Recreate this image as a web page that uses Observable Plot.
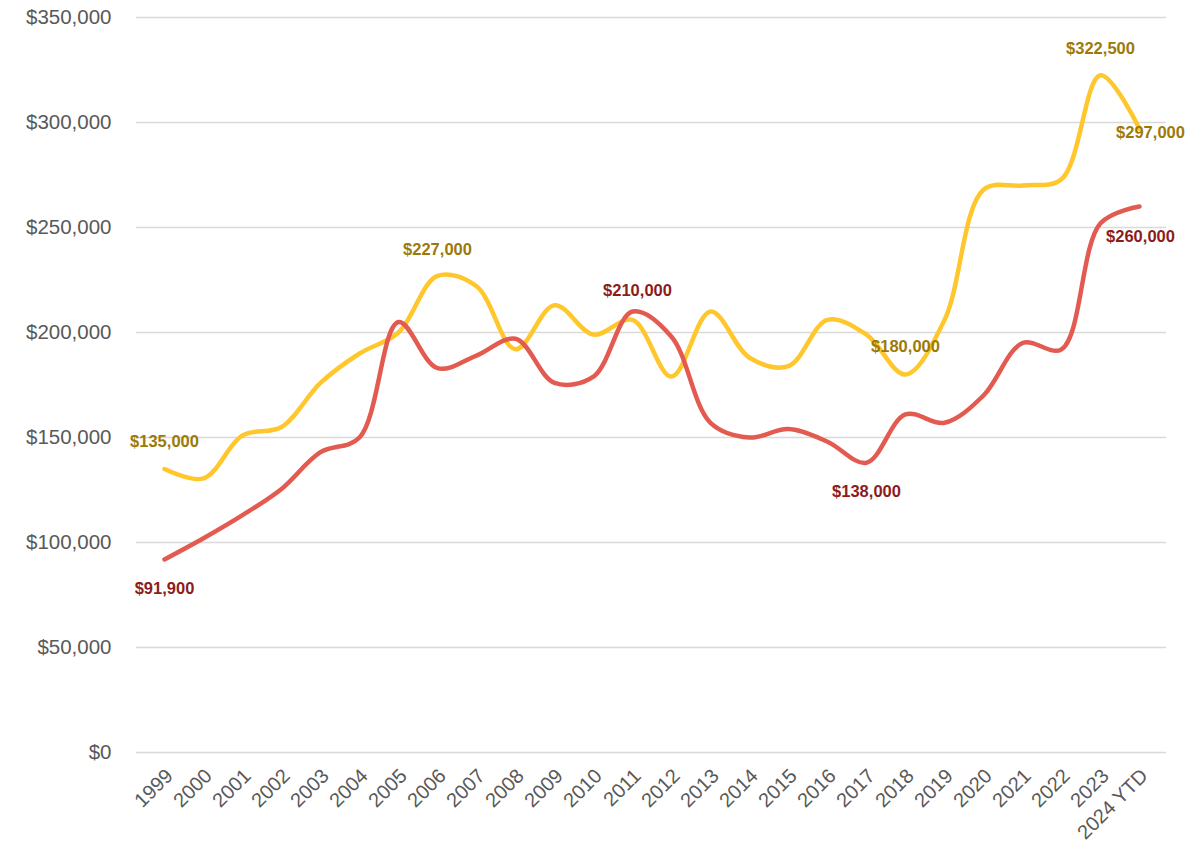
<!DOCTYPE html>
<html>
<head>
<meta charset="utf-8">
<script src="https://cdn.jsdelivr.net/npm/d3@7"></script>
<script src="https://cdn.jsdelivr.net/npm/@observablehq/plot@0.6"></script>
<style>
  html, body { margin: 0; padding: 0; background: #ffffff; }
  #chart svg { display: block; }
</style>
</head>
<body>
<div id="chart"></div>
<script>
// ---- data ----
const years = ["1999","2000","2001","2002","2003","2004","2005","2006","2007","2008","2009","2010","2011","2012","2013","2014","2015","2016","2017","2018","2019","2020","2021","2022","2023","2024 YTD"];
const yellowValues = [135000,130500,151000,155000,176000,190000,200000,227000,222000,192000,213000,199000,206000,179000,210000,188000,184000,206000,199000,180000,206000,268000,270000,273000,322500,297000];
const redValues = [91900,102000,113000,125500,143000,150000,205000,183000,189000,197000,176000,179000,210000,198000,157000,150000,154000,148000,138000,161000,157000,170000,195000,192000,252000,260000];
const yTicks = [0,50000,100000,150000,200000,250000,300000,350000];
const yellowLabelYears = ["1999","2006","2018","2023","2024 YTD"];
const redLabelYears = ["1999","2011","2017","2024 YTD"];

// ---- build tables ----
const yellowData = years.map((y, i) => ({year: y, value: yellowValues[i]}));
const redData = years.map((y, i) => ({year: y, value: redValues[i]}));
const yellowLabels = yellowData.filter(d => yellowLabelYears.includes(d.year));
const redLabels = redData.filter(d => redLabelYears.includes(d.year));

// label placement (styling, not data)
const yellowOffset = {"1999": [0,-27], "2006": [0,-26], "2018": [0,-28], "2023": [0,-27], "2024 YTD": [11,4]};
const redOffset = {"1999": [0,29], "2011": [5,-21], "2017": [0,29], "2024 YTD": [1,30]};

const fmt = d3.format("$,");
const font = "'Liberation Sans', Arial, sans-serif";

const labelMarks = (rows, offsets, color) => rows.map(d => Plot.text([d], {
  x: "year", y: "value", text: r => fmt(r.value),
  dx: offsets[d.year][0], dy: offsets[d.year][1],
  fill: color, fontWeight: "bold", fontSize: 16.5, fontFamily: font
}));

const chart = Plot.plot({
  width: 1201,
  height: 849,
  marginTop: 17,
  marginRight: 35,
  marginBottom: 97,
  marginLeft: 136,
  style: {fontFamily: font, background: "#ffffff", overflow: "visible"},
  x: {type: "point", domain: years, padding: 0.5, label: null},
  y: {domain: [0, 350000], label: null},
  marks: [
    Plot.ruleY(yTicks, {stroke: "#d9d9d9", strokeWidth: 1.6}),
    Plot.axisY({ticks: yTicks, tickFormat: fmt, tickSize: 0, tickPadding: 25, fontSize: 20.5, fill: "#595959", label: null}),
    Plot.axisX({tickSize: 0, tickRotate: -45, tickPadding: 20, fontSize: 20, fill: "#595959", label: null, dx: 5}),
    Plot.line(yellowData, {x: "year", y: "value", stroke: "#FFC72C", strokeWidth: 4.5, curve: "catmull-rom"}),
    Plot.line(redData, {x: "year", y: "value", stroke: "#E35A50", strokeWidth: 4.5, curve: "catmull-rom"}),
    ...labelMarks(yellowLabels, yellowOffset, "#9B7A0A"),
    ...labelMarks(redLabels, redOffset, "#8C1C1C")
  ]
});
document.getElementById("chart").appendChild(chart);
</script>
</body>
</html>
